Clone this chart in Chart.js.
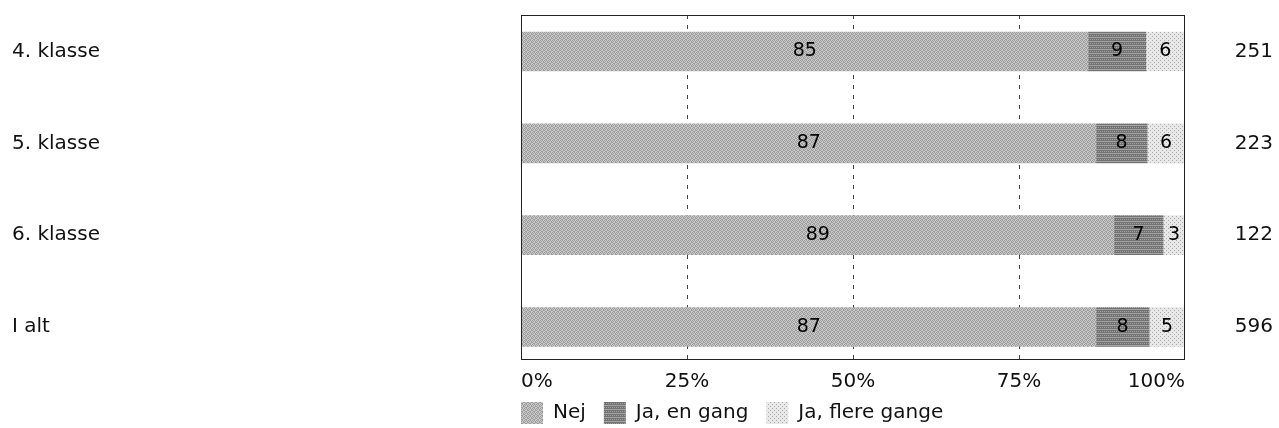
<!DOCTYPE html>
<html>
<head>
<meta charset="utf-8">
<script src="https://cdn.jsdelivr.net/npm/chart.js@4/dist/chart.umd.min.js"></script>
<style>
  html, body { margin: 0; padding: 0; background: #fff; }
</style>
</head>
<body>
<canvas id="chart" width="1279" height="428"></canvas>
<script>
var classes = ["4. klasse", "5. klasse", "6. klasse", "I alt"];
var respondents = [251, 223, 122, 596];
var nej = [85.4, 86.6, 89.3, 86.6];
var jaEnGang = [8.7, 7.7, 7.4, 8.0];
var jaFlereGange = [5.9, 5.7, 3.3, 5.4];
var pctTicks = [0, 25, 50, 75, 100];

var FONT = "'DejaVu Sans', Verdana, sans-serif";
Chart.defaults.font.family = FONT;
Chart.defaults.color = "#111";

// little dithered tiles to get the scanned grey look
function makePattern(rows, dark, light) {
  var c = document.createElement("canvas");
  c.width = rows[0].length;
  c.height = rows.length;
  var g = c.getContext("2d");
  rows.forEach(function (r, y) {
    for (var x = 0; x < r.length; x++) {
      g.fillStyle = r[x] === "1" ? dark : light;
      g.fillRect(x, y, 1, 1);
    }
  });
  return g.createPattern(c, "repeat");
}

var nejFill = makePattern(["1010", "0101", "1001", "0110"], "#9c9c9c", "#cacaca");
var enGangFill = makePattern(["1111", "0000", "1111", "0101"], "#727272", "#a4a4a4");
var flereFill = makePattern(["1000", "0000", "0010", "0000"], "#acacac", "#e8e8e8");

function points(arr) {
  return arr.map(function (v, i) { return { x: v, y: i }; });
}

var barLabels = {
  id: "barLabels",
  afterDatasetsDraw: function (chart) {
    var ctx = chart.ctx;
    ctx.save();
    ctx.font = "19px " + FONT;
    ctx.fillStyle = "#000";
    ctx.textAlign = "center";
    ctx.textBaseline = "middle";
    chart.data.datasets.forEach(function (ds, di) {
      chart.getDatasetMeta(di).data.forEach(function (bar, i) {
        var c = bar.getCenterPoint();
        ctx.fillText(Math.round(ds.data[i].x), c.x, c.y);
      });
    });
    ctx.restore();
  }
};

var frame = {
  id: "frame",
  afterLayout: function (chart) {
    // legend sits under the plot, starting at its left edge
    var lg = chart.legend;
    if (lg) {
      lg.left = chart.chartArea.left - lg.options.labels.padding;
      lg.top = chart.chartArea.bottom + 42 - lg.options.labels.padding;
    }
  },
  afterDraw: function (chart) {
    var a = chart.chartArea, ctx = chart.ctx;
    ctx.save();
    ctx.strokeStyle = "#222";
    ctx.lineWidth = 1;
    ctx.strokeRect(a.left + 0.5, a.top + 0.5, a.right - a.left - 1, a.bottom - a.top - 1);
    ctx.restore();
  }
};

function indexTicks(scale) {
  scale.ticks = classes.map(function (c, i) { return { value: i }; });
}

new Chart("chart", {
  type: "bar",
  data: {
    datasets: [
      { label: "Nej", data: points(nej), backgroundColor: nejFill, borderWidth: 0 },
      { label: "Ja, en gang", data: points(jaEnGang), backgroundColor: enGangFill, borderWidth: 0 },
      { label: "Ja, flere gange", data: points(jaFlereGange), backgroundColor: flereFill, borderWidth: 0 }
    ]
  },
  options: {
    responsive: false,
    animation: false,
    indexAxis: "y",
    barThickness: 39,
    layout: { padding: { left: 12, top: 15, right: 6, bottom: -17 } },
    plugins: {
      tooltip: { enabled: false },
      legend: {
        position: "bottom",
        align: "start",
        labels: {
          boxWidth: 22,
          boxHeight: 22,
          padding: 18,
          color: "#111",
          font: { size: 20 }
        }
      }
    },
    scales: {
      x: {
        type: "linear",
        stacked: true,
        min: 0,
        max: 100,
        afterBuildTicks: function (scale) {
          scale.ticks = pctTicks.map(function (v) { return { value: v }; });
        },
        afterFit: function (scale) { scale.height = 35; },
        grid: {
          color: function (c) { return c.tick && c.tick.value % 100 === 0 ? "rgba(0,0,0,0)" : "#444"; },
          lineWidth: 1,
          drawTicks: false
        },
        border: { display: false, dash: [4, 6] },
        ticks: {
          align: "inner",
          padding: 10,
          maxRotation: 0,
          font: { size: 20 },
          color: "#111",
          callback: function (v) { return v + "%"; }
        }
      },
      y: {
        type: "linear",
        stacked: true,
        reverse: true,
        bounds: "data",
        offset: false,
        min: -0.397,
        max: 3.359,
        afterBuildTicks: indexTicks,
        afterFit: function (scale) { scale.width = 509; },
        grid: { display: false, drawTicks: false, offset: false },
        border: { display: false },
        ticks: {
          crossAlign: "far",
          padding: 0,
          font: { size: 20 },
          color: "#111",
          callback: function (v) { return classes[v]; }
        }
      },
      n: {
        type: "linear",
        position: "right",
        reverse: true,
        bounds: "data",
        offset: false,
        min: -0.397,
        max: 3.359,
        afterBuildTicks: indexTicks,
        afterFit: function (scale) { scale.width = 88; },
        grid: { display: false, drawTicks: false },
        border: { display: false },
        ticks: {
          crossAlign: "far",
          padding: 0,
          font: { size: 20 },
          color: "#111",
          callback: function (v) { return respondents[v]; }
        }
      }
    }
  },
  plugins: [barLabels, frame]
});
</script>
</body>
</html>
